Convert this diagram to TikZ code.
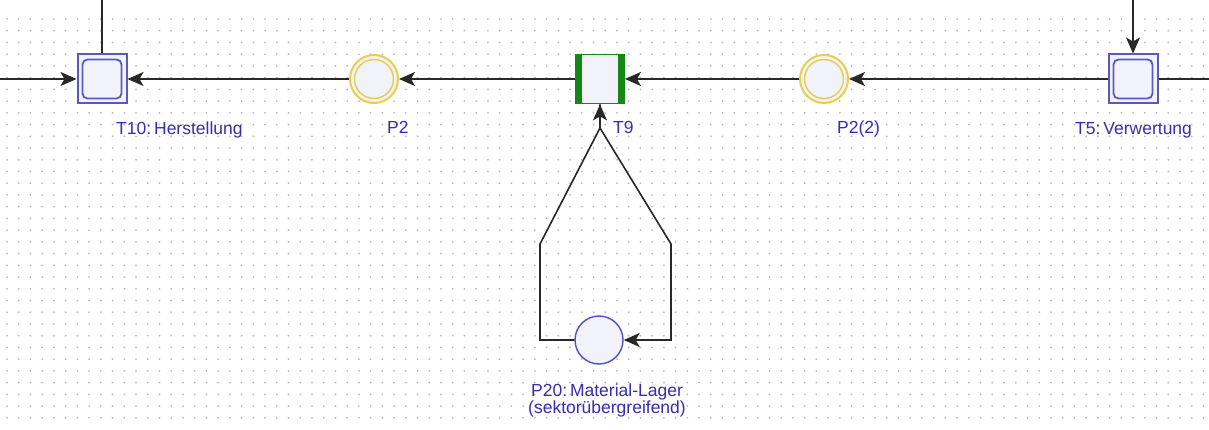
\documentclass[tikz,border=0pt]{standalone}
\usepackage{fontspec}
\setmainfont{Liberation Sans}
\usetikzlibrary{arrows.meta,calc}
\definecolor{dotc}{RGB}{185,185,185}
\definecolor{tblue}{RGB}{90,90,190}
\definecolor{nfill}{RGB}{242,242,250}
\definecolor{pyel}{RGB}{228,208,80}
\definecolor{tgreen}{RGB}{20,135,20}
\definecolor{lblc}{RGB}{55,45,175}
\definecolor{pblue}{RGB}{80,80,200}
\definecolor{arcc}{RGB}{40,40,40}
\tikzset{
  arc/.style={draw=arcc,line width=1.6pt},
  arr/.style={arc,-{Stealth[length=16pt,width=14pt,inset=4pt]}},
  trans/.style={rectangle,draw=tblue,line width=2pt,fill=nfill,minimum size=49pt,inner sep=0pt,
    path picture={\draw[tblue,line width=1.8pt,rounded corners=5pt]
      ([shift={(-19.5pt,-19.5pt)}]path picture bounding box.center) rectangle
      ([shift={(19.5pt,19.5pt)}]path picture bounding box.center);}},
  gtrans/.style={rectangle,draw=tgreen,line width=1.8pt,fill=nfill,minimum width=48pt,minimum height=49pt,inner sep=0pt,
    path picture={
      \fill[tgreen] ([shift={(-24pt,-25pt)}]path picture bounding box.center) rectangle ([shift={(-18pt,25pt)}]path picture bounding box.center);
      \fill[tgreen] ([shift={(18pt,-25pt)}]path picture bounding box.center) rectangle ([shift={(24pt,25pt)}]path picture bounding box.center);}},
  yplace/.style={circle,draw=pyel,line width=2pt,fill=nfill,minimum size=48pt,inner sep=0pt,
    path picture={\draw[pyel,line width=1.5pt] (path picture bounding box.center) circle (19.5pt);}},
  bplace/.style={circle,draw=pblue,line width=1.4pt,fill=nfill,minimum size=48pt,inner sep=0pt},
  lbl/.style={text=lblc,font=\fontsize{17.5}{20}\selectfont,inner sep=0pt}
}
\begin{document}
\begin{tikzpicture}[x=1pt,y=-1pt]
\useasboundingbox[fill=white] (0,0) rectangle (1209,430);
% dot grid
\foreach \i in {0,...,102}{
  \foreach \j in {0,...,34}{
    \fill[dotc] (7+\i*11.73,19+\j*11.73) circle (1pt);
  }
}
% nodes
\node[trans] (t10) at (102,79) {};
\node[yplace] (p2) at (374,79) {};
\node[gtrans] (t9) at (600,79) {};
\node[yplace] (p22) at (824,79) {};
\node[trans] (t5) at (1133,79) {};
\node[bplace] (p20) at (599,340) {};
% free ends and bends
\coordinate (lin) at (0,79);
\coordinate (t10top) at (102,0);
\coordinate (t5top) at (1133,0);
\coordinate (rout) at (1209,79);
\coordinate (jn) at (600,128);
\coordinate (lb) at (540,244);
\coordinate (lbb) at (540,340);
\coordinate (rb) at (671,244);
\coordinate (rbb) at (671,340);
% arcs
\draw[arr] (lin) -- (t10.west);
\draw[arc] (t10top) -- (t10.north);
\draw[arr] (p2.west) -- (t10.east);
\draw[arr] (t9.west) -- (p2.east);
\draw[arr] (p22.west) -- (t9.east);
\draw[arr] (t5.west) -- (p22.east);
\draw[arr] (t5top) -- (t5.north);
\draw[arc] (t5.east) -- (rout);
\draw[arr] (p20.west) -- (lbb) -- (lb) -- (jn) -- (t9.south);
\draw[arr] (t9.south) -- (jn) -- (rb) -- (rbb) -- (p20.east);
% labels
\node[lbl,anchor=base west] (lt10) at (116,135) {T10:\,Herstellung};
\node[lbl,anchor=base west] (lp2) at (387,134) {P2};
\node[lbl,anchor=base west] (lt9) at (613,134) {T9};
\node[lbl,anchor=base west] (lp22) at (837,134) {P2(2)};
\node[lbl,anchor=base west] (lt5) at (1075,135) {T5:\,Verwertung};
\node[lbl,anchor=base] (lp20a) at (607,396) {P20:\,Material-Lager};
\node[lbl,anchor=base] (lp20b) at (607,413) {(sektorübergreifend)};
\end{tikzpicture}
\end{document}
